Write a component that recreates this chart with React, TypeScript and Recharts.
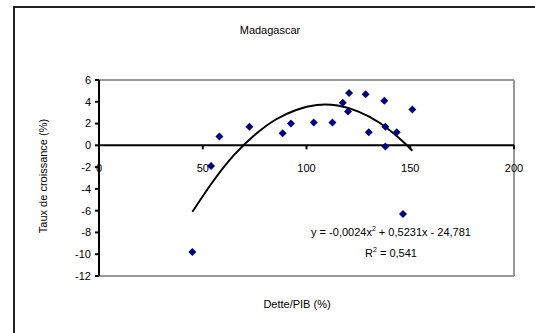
import { ComposedChart, Scatter, Line, XAxis, YAxis, ReferenceLine } from "recharts";

// observations (Dette/PIB %, Taux de croissance %)
const debt = [45, 54, 58, 72.5, 88.5, 92.5, 103.5, 112.5, 117.5, 120.5, 120, 128.5, 130, 137.5, 138, 138, 143.5, 151, 146.5];
const growth = [-9.8, -1.9, 0.8, 1.7, 1.1, 2.0, 2.1, 2.1, 3.9, 4.8, 3.1, 4.7, 1.2, 4.1, 1.7, -0.1, 1.2, 3.3, -6.3];

// polynomial trend line
const trendX = [45, 55, 65, 75, 85, 95, 105, 115, 125, 135, 145, 151];
const trendY = [-6.1, -3.3, -0.9, 0.95, 2.35, 3.25, 3.7, 3.65, 3.1, 2.1, 0.6, -0.5];

const xTicks = [0, 50, 100, 150, 200];
const yTicks = [-12, -10, -8, -6, -4, -2, 0, 2, 4, 6];

const points = debt.map((x, i) => ({ x, y: growth[i] }));
const trend = trendX.map((x, i) => ({ x, y: trendY[i] }));

const PLOT_RIGHT = 514;
const PLOT_TOP = 80;
const PLOT_BOTTOM = 276;
const ZERO_Y = PLOT_TOP + ((PLOT_BOTTOM - PLOT_TOP) * 6) / 18;

const Diamond = (props: any) => {
    const { cx, cy } = props;
    if (cx == null || cy == null) return null;
    return <path d={`M${cx},${cy - 4}L${cx + 4},${cy}L${cx},${cy + 4}L${cx - 4},${cy}Z`} fill="#000080" />;
};

const XTick = (props: any) => {
    const { x, payload } = props;
    return (
        <g>
            <line x1={x} x2={x} y1={ZERO_Y} y2={ZERO_Y + 4} stroke="#000" strokeWidth={2} />
            <text x={x} y={ZERO_Y + 27} textAnchor="middle" fontSize={11} fill="#000">
                {payload.value}
            </text>
        </g>
    );
};

const font = "'Liberation Sans', Arial, sans-serif";

export default function App() {
    return (
        <div style={{ position: "absolute", left: 0, top: 0, width: 535, height: 333, overflow: "hidden", background: "#fff", fontFamily: font }}>
            <svg width={535} height={333} style={{ position: "absolute", left: 0, top: 0 }}>
                {/* outer chart frame */}
                <polyline points="14,340 14,7 540,7" fill="none" stroke="#222" strokeWidth={2} />
            </svg>
            <div style={{ position: "absolute", left: 0, top: 0 }}>
                <ComposedChart width={535} height={333} margin={{ top: PLOT_TOP, right: 535 - PLOT_RIGHT, bottom: 37, left: 59 }}>
                    <XAxis type="number" dataKey="x" domain={[0, 200]} ticks={xTicks} axisLine={false} tickLine={false} height={20} tick={<XTick />} />
                    <YAxis type="number" dataKey="y" domain={[-12, 6]} ticks={yTicks} width={40} tickSize={4} tickMargin={4}
                        axisLine={{ stroke: "#000", strokeWidth: 2 }} tickLine={{ stroke: "#000", strokeWidth: 2 }} tick={{ fontSize: 11, fill: "#000" }} />
                    {/* plot frame */}
                    <ReferenceLine y={6} stroke="#999" strokeWidth={2} />
                    <ReferenceLine y={-12} stroke="#999" strokeWidth={2} />
                    <ReferenceLine x={200} stroke="#999" strokeWidth={2} />
                    <ReferenceLine y={0} stroke="#000" strokeWidth={2} />
                    <Scatter data={points} dataKey="y" shape={<Diamond />} isAnimationActive={false} />
                    <Line data={trend} dataKey="y" type="natural" stroke="#000" strokeWidth={2} dot={false} isAnimationActive={false} />
                </ComposedChart>
            </div>
            <div style={{ position: "absolute", left: 170, width: 200, top: 24, textAlign: "center", fontSize: 11 }}>Madagascar</div>
            <div style={{ position: "absolute", left: 197, width: 200, top: 298, textAlign: "center", fontSize: 11 }}>Dette/PIB (%)</div>
            <div style={{ position: "absolute", left: -57, width: 200, top: 170, textAlign: "center", fontSize: 11, transform: "rotate(-90deg)" }}>Taux de croissance (%)</div>
            <div style={{ position: "absolute", left: 291, width: 200, top: 225, textAlign: "center", fontSize: 11 }}>
                y = -0,0024x<sup style={{ fontSize: 7 }}>2</sup> + 0,5231x - 24,781
            </div>
            <div style={{ position: "absolute", left: 291, width: 200, top: 246, textAlign: "center", fontSize: 11 }}>
                R<sup style={{ fontSize: 7 }}>2</sup> = 0,541
            </div>
        </div>
    );
}
